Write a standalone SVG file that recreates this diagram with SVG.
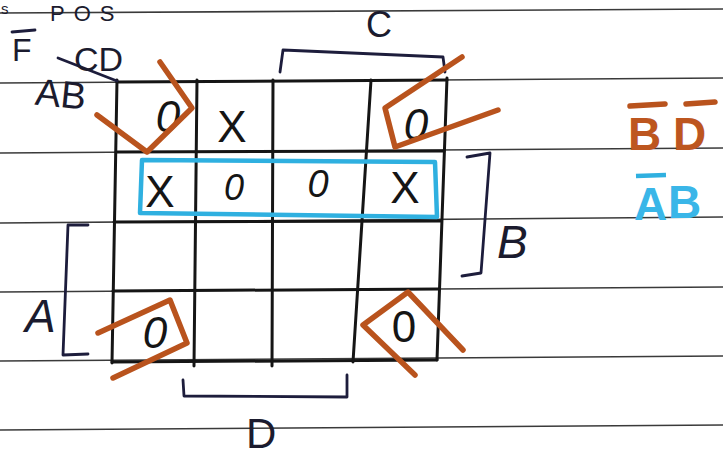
<svg xmlns="http://www.w3.org/2000/svg" width="723" height="462" viewBox="0 0 723 462">
  <style>
    .rule { stroke: #3a3a3a; stroke-width: 1.6; fill: none; }
    .grid { stroke: #151515; stroke-width: 3; fill: none; stroke-linecap: round; }
    .ink { fill: #1b1b2e; font-family: "Liberation Sans", "DejaVu Sans", sans-serif; }
    .cell { fill: #151515; font-family: "Liberation Sans", "DejaVu Sans", sans-serif; text-anchor: middle; }
    .brk { stroke: #1d1d3c; stroke-width: 2.8; fill: none; stroke-linecap: round; stroke-linejoin: round; }
    .org { stroke: #b9531d; stroke-width: 5.5; fill: none; stroke-linecap: round; stroke-linejoin: round; }
    .blu { stroke: #2fb0e0; stroke-width: 4.5; fill: none; stroke-linejoin: round; }
    .otxt { fill: #bd561f; font-family: "Liberation Sans", "DejaVu Sans", sans-serif; font-weight: bold; }
    .btxt { fill: #3ab6e8; font-family: "Liberation Sans", "DejaVu Sans", sans-serif; font-weight: bold; }
  </style>
  <rect width="723" height="462" fill="#ffffff"/>

  <g id="paper">
    <line class="rule" x1="0" y1="13" x2="723" y2="9"/>
    <line class="rule" x1="0" y1="83" x2="723" y2="78"/>
    <line class="rule" x1="0" y1="153" x2="723" y2="148"/>
    <line class="rule" x1="0" y1="223" x2="723" y2="217"/>
    <line class="rule" x1="0" y1="292" x2="723" y2="287"/>
    <line class="rule" x1="0" y1="361" x2="723" y2="356"/>
    <line class="rule" x1="0" y1="430" x2="723" y2="425"/>
  </g>

  <g id="title">
    <text class="ink" x="1" y="14" font-size="15">s</text>
    <text class="ink" x="50" y="21" font-size="22" letter-spacing="9">POS</text>
    <text class="ink" x="12" y="61" font-size="32">F</text>
    <line class="brk" x1="12" y1="32" x2="35" y2="30" stroke-width="2.2"/>
  </g>

  <g id="kmap-grid">
    <line class="grid" x1="117" y1="82" x2="447" y2="80"/>
    <line class="grid" x1="116" y1="152" x2="444" y2="151"/>
    <line class="grid" x1="114" y1="222" x2="441" y2="221"/>
    <line class="grid" x1="113" y1="291" x2="439" y2="289"/>
    <line class="grid" x1="112" y1="362" x2="437" y2="360"/>
    <line class="grid" x1="117" y1="80" x2="112" y2="363"/>
    <line class="grid" x1="197" y1="80" x2="194" y2="366"/>
    <line class="grid" x1="273" y1="80" x2="272" y2="366"/>
    <line class="grid" x1="371" y1="80" x2="353" y2="362"/>
    <line class="grid" x1="447" y1="78" x2="437" y2="360"/>
    <line class="brk" x1="58" y1="58" x2="117" y2="81" stroke-width="2"/>
  </g>

  <g id="axis-labels">
    <text class="ink" x="74" y="71" font-size="34">CD</text>
    <text class="ink" x="36" y="107" font-size="38" transform="rotate(6 60 90)">AB</text>
    <text class="ink" x="366" y="37" font-size="36">C</text>
    <path class="brk" d="M280 72 L283 50 L443 57 L445 72"/>
    <path class="brk" d="M467 157 L490 153 L481 273 L462 276"/>
    <text class="ink" x="497" y="258" font-size="46" font-style="italic">B</text>
    <path class="brk" d="M88 225 L68 225 L63 355 L88 354"/>
    <text class="ink" x="25" y="332" font-size="46" font-style="italic">A</text>
    <path class="brk" d="M183 380 L184 396 L347 397 L347 375"/>
    <text class="ink" x="246" y="448" font-size="42">D</text>
  </g>

  <g id="cells">
    <text class="cell" x="168" y="132" font-size="44" font-style="italic">0</text>
    <text class="cell" x="232" y="142" font-size="44">X</text>
    <text class="cell" x="416" y="140" font-size="44" font-style="italic">0</text>
    <text class="cell" x="160" y="207" font-size="44">X</text>
    <text class="cell" x="234" y="200" font-size="36" font-style="italic">0</text>
    <text class="cell" x="318" y="197" font-size="38" font-style="italic">0</text>
    <text class="cell" x="405" y="203" font-size="44">X</text>
    <text class="cell" x="155" y="348" font-size="44" font-style="italic">0</text>
    <text class="cell" x="404" y="342" font-size="44">0</text>
  </g>

  <g id="group-BD">
    <polyline class="org" points="97,115 147,152 192,108 160,62"/>
    <polyline class="org" points="462,57 385,108 395,147 498,110"/>
    <polyline class="org" points="98,333 170,300 187,343 113,378"/>
    <polyline class="org" points="415,375 363,325 408,292 463,350"/>
  </g>

  <g id="group-AB">
    <path class="blu" d="M142 160 L435 162 L437 217 L140 213 Z"/>
  </g>

  <g id="result">
    <text class="otxt" x="628" y="150" font-size="46">B</text>
    <line class="org" x1="630" y1="106" x2="665" y2="104" stroke-width="4"/>
    <text class="otxt" x="673" y="150" font-size="46">D</text>
    <line class="org" x1="686" y1="104" x2="715" y2="102" stroke-width="4"/>
    <text class="btxt" x="634" y="220" font-size="46">A</text>
    <line class="blu" x1="636" y1="176" x2="666" y2="175" stroke-width="4"/>
    <text class="btxt" x="668" y="218" font-size="46">B</text>
  </g>
</svg>
